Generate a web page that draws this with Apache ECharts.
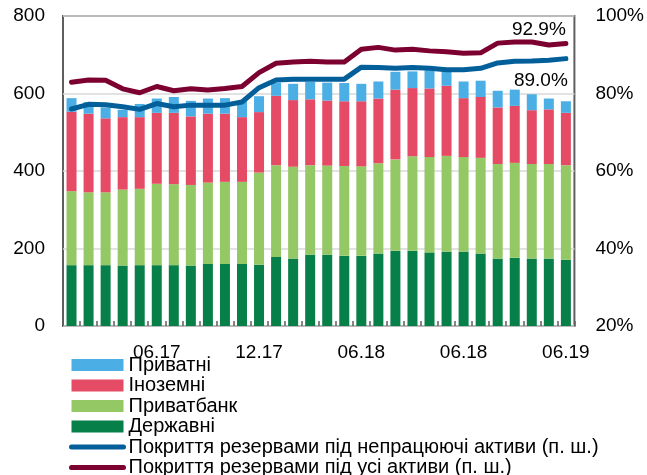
<!DOCTYPE html>
<html>
<head>
<meta charset="utf-8">
<script src="https://cdn.jsdelivr.net/npm/echarts@6/dist/echarts.min.js"></script>
<style>
  html, body { margin: 0; padding: 0; background: #fff; }
  #chart { width: 647px; height: 475px; }
</style>
</head>
<body>
<div id="chart"></div>
<script>
// місяці 01.17 - 06.19
const months = [
  "01.17", "02.17", "03.17", "04.17", "05.17", "06.17", "07.17", "08.17", "09.17", "10.17", "11.17", "12.17",
  "01.18", "02.18", "03.18", "04.18", "05.18", "06.18", "07.18", "08.18", "09.18", "10.18", "11.18", "12.18",
  "01.19", "02.19", "03.19", "04.19", "05.19", "06.19"
];
// підписи осі як на оригіналі
const tickLabels = { 5: "06.17", 11: "12.17", 17: "06.18", 23: "06.18", 29: "06.19" };

// стовпчики, ліва вісь
const derzhavni = [157, 157, 157, 156, 157, 157, 157, 156, 160, 160, 160, 158, 178, 174, 184, 184, 181, 181, 187, 194, 194, 190, 192, 192, 187, 174, 176, 174, 174, 171];
const pryvatbank = [191, 188, 188, 196, 197, 210, 209, 208, 210, 212, 212, 238, 237, 237, 231, 230, 232, 231, 233, 236, 244, 246, 247, 244, 247, 244, 245, 244, 244, 244];
const inozemni = [205, 203, 191, 187, 185, 183, 184, 177, 178, 176, 167, 156, 179, 172, 170, 168, 167, 168, 167, 180, 176, 177, 181, 152, 157, 146, 147, 139, 141, 135];
const pryvatni = [35, 30, 28, 19, 34, 37, 41, 40, 39, 40, 41, 41, 34, 42, 45, 46, 47, 45, 44, 46, 43, 47, 41, 43, 42, 43, 42, 41, 28, 30];

// лінії, права вісь (%)
const coverNpl = [76.0, 77.2, 77.1, 76.6, 75.9, 77.4, 76.6, 77.0, 77.0, 77.0, 77.8, 81.5, 83.5, 83.7, 83.7, 83.7, 83.7, 86.8, 86.7, 86.5, 86.7, 86.5, 86.1, 86.1, 86.5, 87.9, 88.3, 88.4, 88.6, 89.0];
const coverAll = [82.9, 83.5, 83.4, 81.2, 80.2, 81.8, 80.7, 81.2, 80.9, 81.3, 81.8, 85.4, 87.8, 88.1, 88.3, 88.1, 88.1, 91.4, 91.9, 91.2, 91.4, 91.0, 90.8, 90.4, 90.5, 93.0, 93.3, 93.3, 92.5, 92.9];

const font = "Liberation Sans, Arial, sans-serif";
const nplName = "Покриття резервами під непрацюючі активи (п. ш.)";
const allName = "Покриття резервами під усі активи (п. ш.)";
const frameColor = "#5f5f5f";

const chart = echarts.init(document.getElementById("chart"));

// підпис біля останньої точки
const lastMark = (arr, offset) => ({
  symbol: "circle",
  symbolSize: 0,
  silent: true,
  label: {
    show: true,
    position: "inside",
    offset: offset,
    color: "#000",
    fontSize: 19,
    fontFamily: font,
    formatter: (p) => p.value.toFixed(1) + "%",
  },
  data: [{ coord: [arr.length - 1, arr[arr.length - 1]], value: arr[arr.length - 1] }],
});

const barSeries = (name, data, color) => ({
  name: name,
  type: "bar",
  stack: "total",
  data: data,
  barWidth: 10,
  itemStyle: { color: color },
});

const lineSeries = (name, data, color, offset) => ({
  name: name,
  type: "line",
  yAxisIndex: 1,
  data: data,
  symbol: "none",
  lineStyle: { color: color, width: 5, cap: "round", join: "round" },
  itemStyle: { color: color },
  markPoint: lastMark(data, offset),
  z: 5,
});

// легенда для ліній - тільки лінія без кружечка
const lineLegend = (name) => ({
  name: name,
  itemStyle: { color: "rgba(0,0,0,0)", borderWidth: 0 },
  lineStyle: { width: 5, cap: "round" },
});

chart.setOption({
  animation: false,
  textStyle: { fontFamily: font },
  grid: {
    left: 63,
    right: 72,
    top: 16,
    bottom: 149,
    show: true,
    borderColor: frameColor,
    borderWidth: 2,
  },
  legend: {
    orient: "vertical",
    left: 69,
    top: 355,
    height: 140,
    padding: 0,
    itemWidth: 52,
    itemHeight: 12,
    itemGap: 0.5,
    textStyle: { fontSize: 20, lineHeight: 18, color: "#000", fontFamily: font },
    data: [
      { name: "Приватні", icon: "rect" },
      { name: "Іноземні", icon: "rect" },
      { name: "Приватбанк", icon: "rect" },
      { name: "Державні", icon: "rect" },
      lineLegend(nplName),
      lineLegend(allName),
    ],
  },
  xAxis: {
    type: "category",
    data: months,
    axisLine: { show: false },
    axisTick: { show: true, inside: true, length: 5, interval: 0, lineStyle: { color: frameColor, width: 1.5 } },
    axisLabel: {
      interval: 0,
      margin: 17,
      fontSize: 19,
      color: "#000",
      formatter: (v, i) => tickLabels[i] || "",
    },
  },
  yAxis: [
    {
      type: "value",
      min: 0,
      max: 800,
      interval: 200,
      axisLine: { show: false },
      axisTick: { show: false },
      axisLabel: { margin: 18, fontSize: 19, color: "#000" },
      splitLine: { show: true, lineStyle: { color: "#d9d9d9", width: 1.5 } },
    },
    {
      type: "value",
      min: 20,
      max: 100,
      interval: 20,
      axisLine: { show: false },
      axisTick: { show: false },
      axisLabel: { margin: 21, fontSize: 19, color: "#000", formatter: "{value}%" },
      splitLine: { show: false },
    },
  ],
  series: [
    barSeries("Державні", derzhavni, "#067f48"),
    barSeries("Приватбанк", pryvatbank, "#93c865"),
    barSeries("Іноземні", inozemni, "#e54b65"),
    barSeries("Приватні", pryvatni, "#4bafe5"),
    lineSeries(nplName, coverNpl, "#035f9a", [-25, 22]),
    lineSeries(allName, coverAll, "#7c0030", [-27, -14]),
  ],
});
</script>
</body>
</html>
